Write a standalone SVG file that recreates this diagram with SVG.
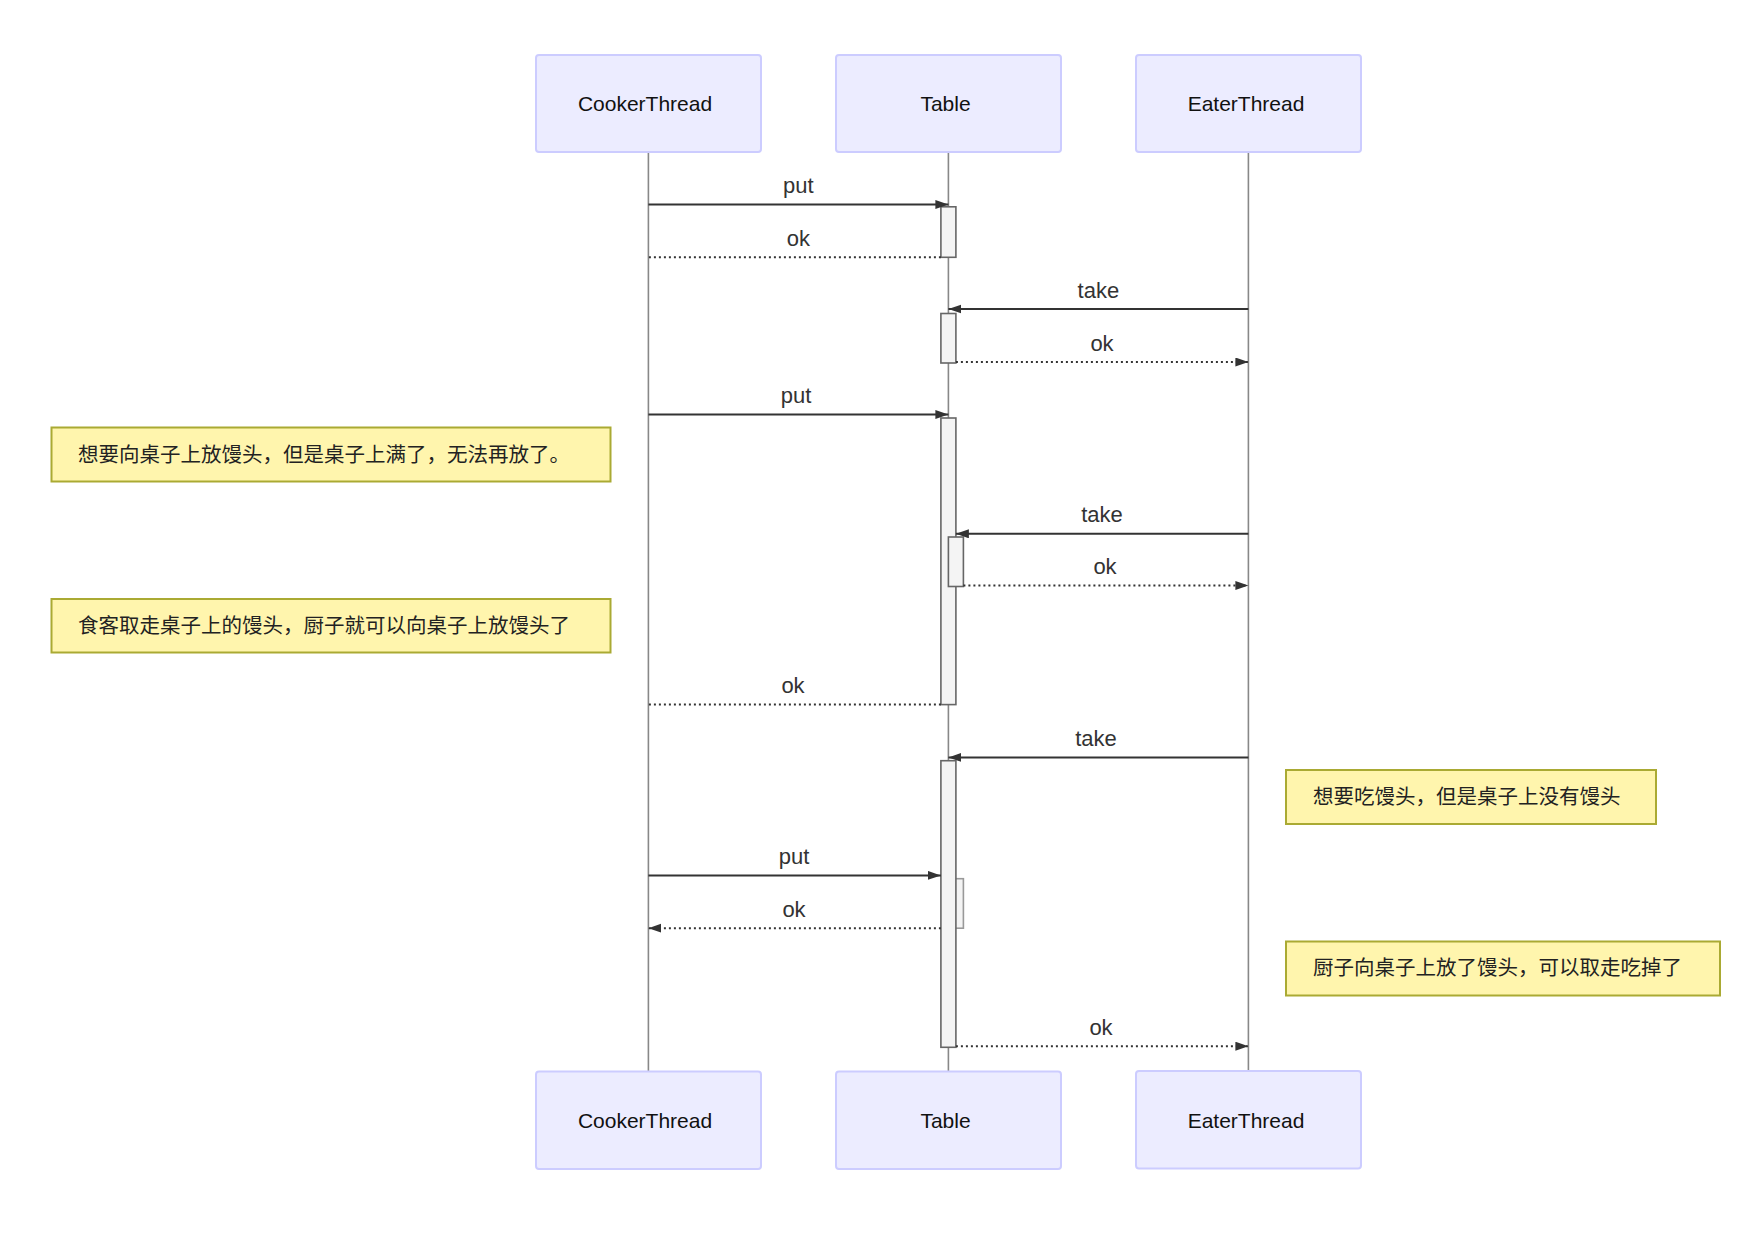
<svg xmlns="http://www.w3.org/2000/svg" width="1762" height="1242" viewBox="0 0 1762 1242">
<style>
.actor{fill:#ECECFF;stroke:#CCCCFF;stroke-width:2}
.atext{font-family:"Liberation Sans",Arial,sans-serif;font-size:21px;fill:#111;text-anchor:middle;dominant-baseline:central}
.life{stroke:#888;stroke-width:1.6}
.msg{stroke:#333;stroke-width:2;fill:none}
.dot{stroke:#333;stroke-width:2;fill:none;stroke-dasharray:2,3}
.mtext{font-family:"Liberation Sans",Arial,sans-serif;font-size:22px;fill:#333;text-anchor:middle}
.act{fill:#f4f4f4;stroke:#666;stroke-width:1.6}
.act2{fill:#f4f4f4;stroke:#999;stroke-width:1.6}
.note{fill:#fff5ad;stroke:#aaaa33;stroke-width:2}
.ntext{font-family:"Noto Sans CJK SC","Noto Sans CJK JP",sans-serif;font-size:20.5px;fill:#222;dominant-baseline:central}
</style>
<defs>
<marker id="arr" markerUnits="userSpaceOnUse" markerWidth="14" markerHeight="10" refX="13" refY="4.5" orient="auto">
<path d="M0,0 L13,4.5 L0,9 z" fill="#333"/>
</marker>
</defs>
<rect width="1762" height="1242" fill="#ffffff"/>
<g id="lifelines">
<line class="life" x1="648.4" y1="152" x2="648.4" y2="1071"/>
<line class="life" x1="948.4" y1="152" x2="948.4" y2="1071"/>
<line class="life" x1="1248.4" y1="152" x2="1248.4" y2="1071"/>
</g>
<g id="actor-cooker-top"><rect class="actor" x="536" y="55" width="225" height="97" rx="3"/><text class="atext" x="645" y="103.5">CookerThread</text></g>
<g id="actor-table-top"><rect class="actor" x="836" y="55" width="225" height="97" rx="3"/><text class="atext" x="945.5" y="103.5">Table</text></g>
<g id="actor-eater-top"><rect class="actor" x="1136" y="55" width="225" height="97" rx="3"/><text class="atext" x="1246" y="103.5">EaterThread</text></g>
<g id="actor-cooker-bottom"><rect class="actor" x="536" y="1071.5" width="225" height="97.5" rx="3"/><text class="atext" x="645" y="1120">CookerThread</text></g>
<g id="actor-table-bottom"><rect class="actor" x="836" y="1071.5" width="225" height="97.5" rx="3"/><text class="atext" x="945.5" y="1120">Table</text></g>
<g id="actor-eater-bottom"><rect class="actor" x="1136" y="1071" width="225" height="97.5" rx="3"/><text class="atext" x="1246" y="1120">EaterThread</text></g>
<g id="activations">
<rect class="act" x="940.9" y="206.8" width="15" height="50.5"/>
<rect class="act" x="940.9" y="313.5" width="15" height="49.5"/>
<rect class="act" x="940.9" y="418" width="15" height="286.6"/>
<rect class="act" x="948.4" y="537" width="15" height="49.5"/>
<rect class="act2" x="948.4" y="878.7" width="15" height="49.5"/>
<rect class="act" x="940.9" y="760.7" width="15" height="286.6"/>
</g>
<g id="connectors">
<line class="msg" x1="648.4" y1="204.5" x2="948.4" y2="204.5" marker-end="url(#arr)"/>
<text class="mtext" x="798.4" y="193">put</text>
<line class="dot" x1="940.9" y1="257.3" x2="648.4" y2="257.3"/>
<text class="mtext" x="798.4" y="246">ok</text>
<line class="msg" x1="1248.4" y1="309" x2="948.4" y2="309" marker-end="url(#arr)"/>
<text class="mtext" x="1098.4" y="297.5">take</text>
<line class="dot" x1="955.9" y1="362" x2="1248.4" y2="362" marker-end="url(#arr)"/>
<text class="mtext" x="1102" y="350.5">ok</text>
<line class="msg" x1="648.4" y1="414.6" x2="948.4" y2="414.6" marker-end="url(#arr)"/>
<text class="mtext" x="796" y="403">put</text>
<line class="msg" x1="1248.4" y1="533.8" x2="955.9" y2="533.8" marker-end="url(#arr)"/>
<text class="mtext" x="1102" y="522.3">take</text>
<line class="dot" x1="963.4" y1="585.5" x2="1248.4" y2="585.5" marker-end="url(#arr)"/>
<text class="mtext" x="1105" y="574">ok</text>
<line class="dot" x1="940.9" y1="704.6" x2="648.4" y2="704.6"/>
<text class="mtext" x="793" y="693">ok</text>
<line class="msg" x1="1248.4" y1="757.4" x2="948.4" y2="757.4" marker-end="url(#arr)"/>
<text class="mtext" x="1096" y="746">take</text>
<line class="msg" x1="648.4" y1="875.4" x2="940.9" y2="875.4" marker-end="url(#arr)"/>
<text class="mtext" x="794" y="864">put</text>
<line class="dot" x1="940.9" y1="928.2" x2="648.4" y2="928.2" marker-end="url(#arr)"/>
<text class="mtext" x="794" y="917">ok</text>
<line class="dot" x1="955.9" y1="1046.2" x2="1248.4" y2="1046.2" marker-end="url(#arr)"/>
<text class="mtext" x="1101" y="1035">ok</text>
</g>
<g id="note1"><rect class="note" x="51.5" y="427.5" width="559" height="54"/><text class="ntext" x="78" y="453">想要向桌子上放馒头，但是桌子上满了，无法再放了。</text></g>
<g id="note2"><rect class="note" x="51.5" y="599" width="559" height="53.5"/><text class="ntext" x="78" y="624">食客取走桌子上的馒头，厨子就可以向桌子上放馒头了</text></g>
<g id="note3"><rect class="note" x="1286" y="770" width="370" height="54"/><text class="ntext" x="1313" y="794.5">想要吃馒头，但是桌子上没有馒头</text></g>
<g id="note4"><rect class="note" x="1286" y="941.5" width="434" height="54"/><text class="ntext" x="1313" y="966">厨子向桌子上放了馒头，可以取走吃掉了</text></g>
</svg>
